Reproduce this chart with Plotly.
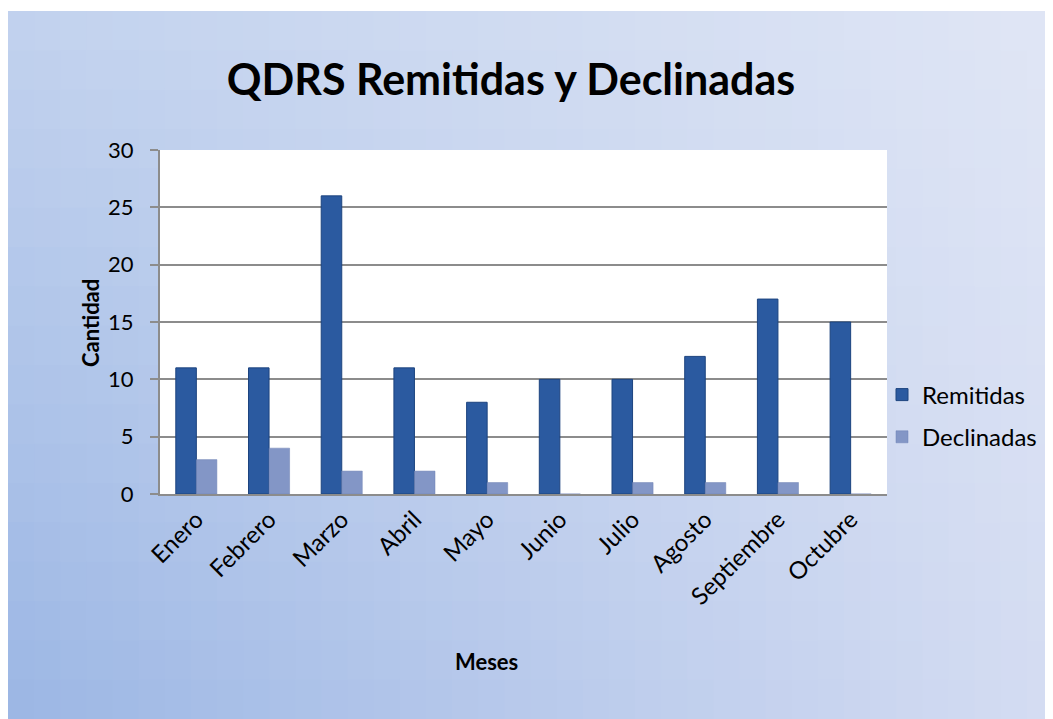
import plotly.graph_objects as go

meses = ["Enero", "Febrero", "Marzo", "Abril", "Mayo", "Junio", "Julio",
         "Agosto", "Septiembre", "Octubre"]
remitidas = [11, 11, 26, 11, 8, 10, 10, 12, 17, 15]
declinadas = [3, 4, 2, 2, 1, 0, 1, 1, 1, 0]
y_ticks = [0, 5, 10, 15, 20, 25, 30]

# figure is placed at (8, 8) on the page by the default body margin
W, H = 1045, 711
FONT = "Lato"
L, R, T, B = 152, 879, 142, 486   # plot area in figure pixels
PW, PH = R - L, B - T

def px(xp):
    return (xp - L) / PW

def py(yp):
    return (B - yp) / PH

fig = go.Figure()
fig.add_trace(go.Bar(name="Remitidas", x=meses, y=remitidas, legendgroup="a",
                     marker=dict(color="#2b5aa0", line=dict(color="#1d447f", width=1))))
fig.add_trace(go.Bar(name="Declinadas", x=meses, y=declinadas, legendgroup="b",
                     marker=dict(color="#8396c6", line=dict(color="#6f82b4", width=0.5))))

# background gradient (bilinear between corner colours)
def hx(c):
    return [int(c[i:i + 2], 16) for i in (1, 3, 5)]
TL, TR, BL, BR = hx("#c2d2ee"), hx("#e0e6f5"), hx("#9bb6e4"), hx("#d4dcf2")
shapes = []
NX, NY = 40, 18
TOP = 3  # white strip at top
for i in range(NX):
    for j in range(NY):
        u = (i + 0.5) / NX
        v = (j + 0.5) / NY  # 0 bottom, 1 top
        col = [round((1 - u) * (1 - v) * BL[k] + u * (1 - v) * BR[k] + (1 - u) * v * TL[k] + u * v * TR[k]) for k in range(3)]
        xa = W * i / NX
        xb = W * (i + 1) / NX + 1
        ya = H - (H - TOP) * j / NY
        yb = H - (H - TOP) * (j + 1) / NY - 1
        if j == NY - 1:
            yb = TOP
        shapes.append(dict(type="rect", xref="paper", yref="paper", layer="below",
                           x0=px(xa), x1=px(xb), y0=py(ya), y1=py(yb),
                           fillcolor="rgb(%d,%d,%d)" % tuple(col), line=dict(width=0)))
shapes.append(dict(type="rect", xref="paper", yref="paper", layer="below",
                   x0=0, x1=1, y0=0, y1=1, fillcolor="white", line=dict(width=0)))

fig.update_layout(
    width=W, height=H,
    margin=dict(l=L, r=W - R, t=T, b=H - B, autoexpand=False),
    paper_bgcolor="white", plot_bgcolor="white",
    barmode="group", bargap=0.435, bargroupgap=0.0,
    shapes=shapes,
    font=dict(family=FONT, color="black"),
    title=dict(text="<b>QDRS Remitidas y Declinadas</b>", x=503 / W, xanchor="center",
               y=1 - 72 / H, yanchor="middle", font=dict(size=43, family=FONT, color="black")),
    xaxis=dict(tickangle=-45, tickfont=dict(size=24), showline=True, linecolor="#8c8c8c",
               linewidth=2, ticks="", showgrid=False, mirror=False),
    yaxis=dict(range=[0, 30], tickvals=y_ticks, tickfont=dict(size=22), showline=True,
               linecolor="#8c8c8c", linewidth=2, gridcolor="#8c8c8c", gridwidth=2,
               ticks="outside", ticklen=8, tickcolor="#8c8c8c", tickwidth=2, zeroline=False,
               ticklabelstandoff=12),
    legend=dict(x=px(874), xanchor="left", y=py(408), yanchor="middle", bgcolor="rgba(0,0,0,0)",
                font=dict(size=24, family=FONT), tracegroupgap=8, itemwidth=30),
    showlegend=True,
    annotations=[
        dict(text="<b>Cantidad</b>", xref="paper", yref="paper", x=px(82),
             y=py(315), xanchor="center", yanchor="middle", textangle=-90,
             showarrow=False, font=dict(size=22, family=FONT)),
        dict(text="<b>Meses</b>", xref="paper", yref="paper", x=px(478),
             y=py(653), xanchor="center", yanchor="middle",
             showarrow=False, font=dict(size=22, family=FONT)),
    ],
)

fig.write_html("out.html")
